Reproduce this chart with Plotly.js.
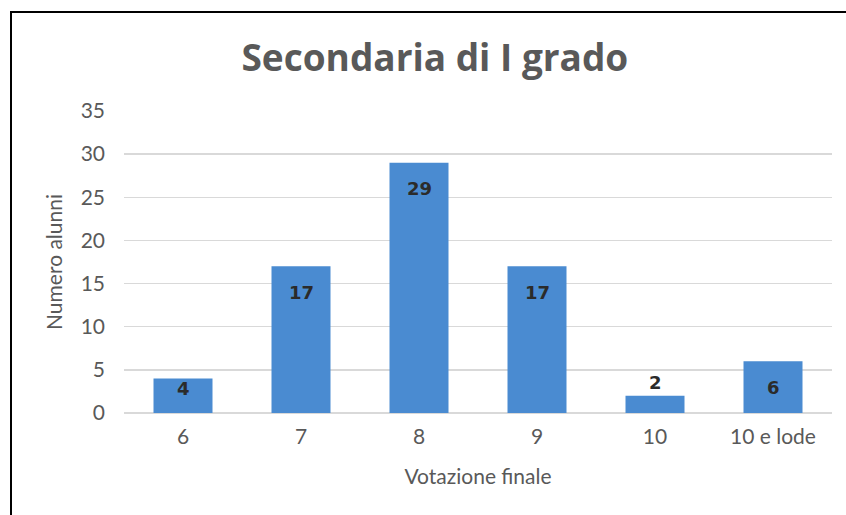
<!DOCTYPE html>
<html>
<head>
<meta charset="utf-8">
<script src="https://cdn.plot.ly/plotly-3.0.1.min.js"></script>
<style>
  html, body { margin: 0; padding: 0; background: #ffffff; }
  #wrap { position: relative; width: 846px; height: 515px; overflow: hidden; }
  #chart { position: absolute; left: 0; top: 0; width: 846px; height: 515px; }
  #frame { position: absolute; left: 10px; top: 11px; width: 900px; height: 600px;
           border: 2.5px solid #000; pointer-events: none; box-sizing: border-box; }
</style>
</head>
<body>
<div id="wrap">
  <div id="chart"></div>
  <div id="frame"></div>
</div>
<script>
const categories = ["6", "7", "8", "9", "10", "10 e lode"];
const values = [4, 17, 29, 17, 2, 6];
const yTicks = [0, 5, 10, 15, 20, 25, 30, 35];

const H = 515, T = 111, B = 102, YMAX = 35;
const pxPerUnit = (H - T - B) / YMAX;

const trace = {
  type: "bar",
  x: categories,
  y: values,
  marker: { color: "#4a8bd1", line: { width: 0 } },
  width: 0.5,
  hoverinfo: "x+y"
};

// data labels: "inside end" like Excel; too-short bars get label outside
const labelFont = { family: "'DejaVu Sans', sans-serif", size: 18, color: "#2b2b2b", weight: 700 };
const annotations = values.map((v, i) => {
  const barPx = v * pxPerUnit;
  let shift;
  if (barPx < 25) shift = 13;
  else if (barPx < 45) shift = -10;
  else shift = -26;
  return {
    x: i, y: v, xref: "x", yref: "y",
    text: "<b>" + v + "</b>", showarrow: false,
    yanchor: "middle", xanchor: "center", yshift: shift,
    font: labelFont
  };
});

const tickFont = { family: "Lato, sans-serif", size: 21, color: "#595959" };
const axTitleFont = { family: "Lato, sans-serif", size: 21, color: "#595959" };

const layout = {
  width: 846,
  height: H,
  margin: { l: 124, r: 14, t: T, b: B },
  paper_bgcolor: "#ffffff",
  plot_bgcolor: "#ffffff",
  showlegend: false,
  annotations: annotations,
  title: {
    text: "<b>Secondaria di I grado</b>",
    font: { family: "'Open Sans', sans-serif", size: 37, color: "#595959" },
    x: 0.514, xref: "container", xanchor: "center",
    y: 0.887, yref: "container", yanchor: "middle"
  },
  xaxis: {
    type: "category",
    showline: false,
    showgrid: false,
    ticks: "",
    ticklabelstandoff: 9,
    tickfont: tickFont,
    title: { text: "Votazione finale", font: axTitleFont, standoff: 22 }
  },
  yaxis: {
    range: [0, YMAX],
    tickvals: yTicks,
    ticktext: yTicks.map(String),
    showgrid: true,
    gridcolor: "#d9d9d9",
    gridwidth: 1.5,
    zeroline: true,
    zerolinecolor: "#d9d9d9",
    zerolinewidth: 1.5,
    showline: false,
    ticks: "",
    ticklabelstandoff: 18,
    tickfont: tickFont,
    title: { text: "Numero alunni", font: axTitleFont, standoff: 12 }
  }
};

Plotly.newPlot("chart", [trace], layout, { displayModeBar: false, staticPlot: true });
</script>
</body>
</html>
